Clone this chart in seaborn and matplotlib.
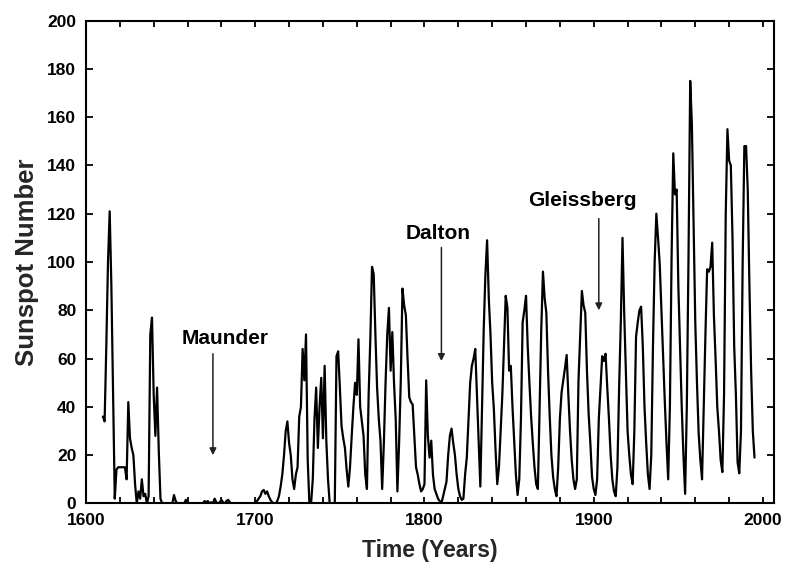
import numpy as np
import pandas as pd
import matplotlib
matplotlib.use("Agg")
import matplotlib.pyplot as plt
import seaborn as sns

# Yearly group sunspot number, 1610-1995
ssn_1610_1699 = [
    36, 34, 65, 100, 121, 90, 45, 2, 14, 15,
    15, 15, 15, 15, 10, 42, 27, 23, 20, 8,
    0, 5, 2, 10, 3, 4, 0, 3, 70, 77,
    45, 28, 48, 22, 2, 0, 0, 0, 0, 0,
    0, 0, 3.5, 1, 0, 0, 0, 0, 0, 1.5,
    0.5, 0, 0, 0, 0, 0, 0, 0, 0, 0,
    1, 0.5, 1, 0, 0.5, 0, 2, 0.5, 0, 0.5,
    1.5, 0.5, 0, 1, 1.5, 0.5, 0, 0, 0, 0,
    0, 0, 0, 0, 0, 0, 0, 0, 0, 0,
]
ssn_1700_1799 = [
    0.5, 1, 2, 3, 5, 5.6, 4, 5, 3, 1.5,
    0.5, 0, 0, 1, 3, 7, 12, 20, 30, 34,
    25, 20, 10, 6, 12, 15, 36, 40, 64, 51,
    70, 18, 0, 0, 10, 35, 48, 23, 40, 52,
    27, 57, 26, 10, 0, 0, 0, 0, 61, 63,
    48, 32, 27, 23, 14, 7, 15, 28, 40, 50,
    45, 68, 40, 34, 28, 12, 6, 45, 68, 98,
    95, 70, 48, 35, 26, 6, 25, 50, 70, 81,
    55, 71, 50, 35, 5, 25, 51, 89, 82, 78,
    60, 44, 42, 41, 28, 15, 12, 8, 5, 6,
]
ssn_1800_1899 = [
    8, 51, 28, 19, 26, 12, 6, 4, 2, 1,
    0, 3, 6, 9, 20, 28, 31, 25, 20, 12,
    6, 3, 1.5, 2, 12, 19, 35, 50, 57, 60,
    64, 45, 25, 7, 40, 72, 95, 109, 85, 70,
    50, 39, 22, 8, 15, 30, 45, 65, 86, 81,
    55, 57, 40, 26, 12, 3.5, 10, 35, 75, 80,
    86, 65, 50, 36, 25, 15, 8, 6, 40, 72,
    96, 85, 79, 55, 36, 20, 11, 6, 3, 15,
    35, 46, 51, 56, 61.5, 45, 30, 18, 10, 6,
    10, 51, 70, 88, 82, 79, 55, 37, 25, 11,
]
ssn_1900_1995 = [
    6, 3.5, 10, 35, 48, 61, 59, 62, 48, 35,
    20, 10, 5, 3, 15, 48, 75, 110, 79, 55,
    30, 20, 12, 8, 30, 69, 75, 80, 81.5, 65,
    40, 25, 12, 6, 20, 65, 100, 120, 110, 99,
    80, 60, 42, 25, 10, 40, 102, 145, 128, 130,
    90, 65, 40, 20, 4, 40, 102, 175, 157, 115,
    75, 50, 29, 18, 10, 40, 70, 97, 96, 98,
    108, 78, 60, 40, 30, 18, 13, 45, 120, 155,
    142, 140, 110, 65, 45, 17, 12.5, 30, 100, 148,
    148, 130, 90, 55, 30, 19,
]

sunspots = ssn_1610_1699 + ssn_1700_1799 + ssn_1800_1899 + ssn_1900_1995
years = list(range(1610, 1610 + len(sunspots)))

# Named grand minima: label, arrow year, arrow top, arrow tip, text x, text baseline y
minima_names = ["Maunder", "Dalton", "Gleissberg"]
minima_years = [1675, 1810, 1903]
arrow_tops = [62, 106, 118]
arrow_tips = [20, 59, 80]
label_x = [1682, 1808, 1893]
label_y = [66, 109.5, 123]

x_major = [1600, 1700, 1800, 1900, 2000]
y_ticks = list(range(0, 201, 20))

sns.set_style("ticks")
plt.rcParams["font.family"] = ["Liberation Sans", "DejaVu Sans"]
plt.rcParams["font.weight"] = "bold"
plt.rcParams["axes.labelweight"] = "bold"

fig = plt.figure(figsize=(7.86, 5.70), dpi=100)
ax = fig.add_axes([0.1094, 0.1167, 0.8753, 0.8473])

df = pd.DataFrame({"Year": years, "Sunspot Number": sunspots})
sns.lineplot(data=df, x="Year", y="Sunspot Number", ax=ax,
             color="black", linewidth=1.6)

ax.set_xlim(1600, 2006.5)
ax.set_ylim(0, 200)
ax.set_xticks(x_major)
ax.set_xticks(list(range(1620, 2001, 20)), minor=True)
ax.set_yticks(y_ticks)

ax.tick_params(which="both", direction="in", top=True, right=True,
               width=1.3, colors="black", labelsize=12.5, pad=7)
ax.tick_params(axis="x", which="both", length=4)
ax.tick_params(axis="y", which="major", length=5)
for lab in ax.get_xticklabels() + ax.get_yticklabels():
    lab.set_fontweight("bold")

for sp in ax.spines.values():
    sp.set_linewidth(1.5)
    sp.set_color("black")

ax.set_xlabel("Time (Years)", fontsize=16.5, fontweight="bold")
ax.set_ylabel("Sunspot Number", fontsize=18.5, fontweight="bold")
ax.xaxis.set_label_coords(0.5, -0.073)
ax.yaxis.set_label_coords(-0.068, 0.5)

for name, yr, top, tip, tx, ty in zip(minima_names, minima_years, arrow_tops,
                                       arrow_tips, label_x, label_y):
    ax.annotate("", xy=(yr, tip), xytext=(yr, top),
                arrowprops=dict(arrowstyle="-|>", color="#222222", lw=1.1,
                                mutation_scale=10, shrinkA=0, shrinkB=0))
    ax.text(tx, ty, name, ha="center", va="baseline",
            fontsize=15, fontweight="bold", color="black")

fig.savefig("out.png", dpi=100, facecolor="white")
